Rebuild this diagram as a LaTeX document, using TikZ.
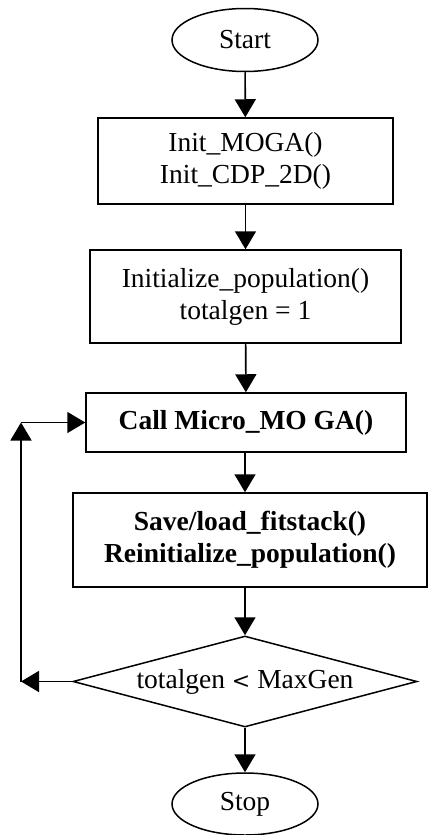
\documentclass[tikz,border=0pt]{standalone}
\usepackage{fontspec}
\setmainfont{Liberation Serif}
\usetikzlibrary{shapes.geometric,arrows.meta}
\begin{document}
\begin{tikzpicture}[x=1pt,y=-1pt,
  every node/.style={font=\fontsize{27.5}{32}\selectfont, align=center, inner sep=0pt, line width=1.5pt},
  term/.style={draw, ellipse, minimum width=146pt, minimum height=63pt},
  proc/.style={draw, rectangle},
  dec/.style={draw, diamond, shape aspect=3.78, minimum width=344pt, minimum height=91pt},
  conn/.style={line width=1.6pt, -{Triangle[width=21pt,length=18pt]}}]
\useasboundingbox (0,0) rectangle (428,835);
\node[term] (start) at (245,40) {Start};
\node[proc, minimum width=295pt, minimum height=86pt] (b1) at (245.5,161) {Init\_MOGA()\\Init\_CDP\_2D()};
\node[proc, minimum width=311pt, minimum height=93pt] (b2) at (245.5,296.5) {Initialize\_population()\\totalgen = 1};
\node[proc, minimum width=320pt, minimum height=59pt] (b3) at (246,422.5) {\bfseries Call Micro\_MO GA()};
\node[proc, minimum width=354pt, minimum height=94pt] (b4) at (250,540) {\bfseries Save/load\_fitstack()\\\bfseries Reinitialize\_population()};
\node[dec] (d) at (245,681.5) {totalgen {\fontspec{DejaVu Serif}\fontsize{22}{26}\selectfont <} MaxGen};
\node[term, minimum height=62pt] (stop) at (245,804) {Stop};
\coordinate (c1) at (21,681.5);
\coordinate (c2) at (21,422.5);
\draw[conn] (start) -- (b1);
\draw[conn] (b1) -- (b2);
\draw[conn] (b2) -- (b3);
\draw[conn] (b3.south -| start) -- (b4.north -| start);
\draw[conn] (b4.south -| start) -- (d);
\draw[conn] (d) -- (stop);
\draw[conn] (d.west) -- (c1);
\draw[conn] (c1) -- (c2);
\draw[conn] (c2) -- (b3.west);
\end{tikzpicture}
\end{document}
